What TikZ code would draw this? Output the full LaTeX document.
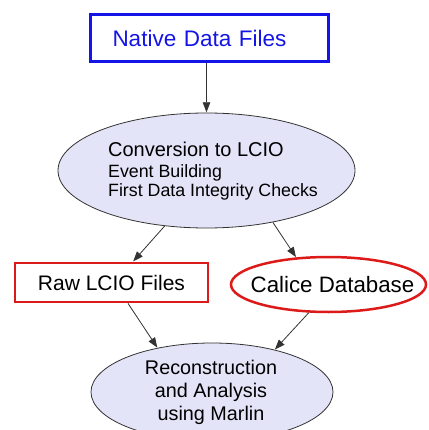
\documentclass[tikz,border=0pt]{standalone}
\usepackage{fontspec}
\setmainfont{Liberation Sans}
\usetikzlibrary{shapes.geometric,arrows.meta}
\definecolor{nblue}{HTML}{1414E6}
\definecolor{nred}{HTML}{DD1A1A}
\definecolor{lav}{HTML}{E4E4F8}
\definecolor{edge}{HTML}{333333}
\tikzset{
  bluebox/.style={draw=nblue,line width=2.8pt,inner xsep=22pt,text width=194pt,align=left,minimum height=47pt,inner ysep=0pt,text=nblue,font=\fontsize{22.5}{24}\selectfont},
  redbox/.style={draw=nred,line width=2.8pt,minimum width=193pt,minimum height=39pt,inner sep=0pt,font=\fontsize{21}{24}\selectfont},
  redell/.style={ellipse,draw=nred,line width=2.5pt,fill=white,minimum width=195pt,minimum height=55pt,inner xsep=-30pt,inner ysep=-5pt,font=\fontsize{22.3}{24}\selectfont},
  lavell/.style={ellipse,draw=edge,line width=0.8pt,fill=lav,inner sep=0pt},
  arr/.style={draw=edge,line width=0.8pt,-{Triangle[length=10pt,width=7.5pt]},shorten >=0.3pt}
}
\begin{document}
\begin{tikzpicture}[x=1pt,y=-1pt]
\useasboundingbox (0,0) rectangle (428,430);
\clip (0,0) rectangle (428,430);
\node[bluebox] (native) at (209.5,38) {Native Data Files};
\node[lavell,minimum width=297pt,minimum height=115pt] (conv) at (206.5,170.5) {};
\node[align=left,inner sep=0pt,font=\fontsize{17.8}{19.5}\selectfont] (convtxt) at (213,171) {{\fontsize{20}{22}\selectfont Conversion to LCIO}\\[1.5pt]
Event Building\\
First Data Integrity Checks};
\node[redbox] (raw) at (111.5,282.5) {Raw LCIO Files};
\node[redell] (calice) at (328.5,284.5) {\hspace*{8pt}Calice Database};
\node[lavell,minimum width=242pt,minimum height=98pt] (recon) at (212,392) {};
\node[align=center,inner sep=0pt,font=\fontsize{19.8}{23}\selectfont] (recontxt) at (211,392.5) {Reconstruction\\and Analysis\\using Marlin};
\draw[arr] (native.south -| conv.north) -- (conv.north);
\draw[arr] (conv.233) -- ([xshift=21.5pt]raw.north);
\draw[arr] (conv.322) -- (calice.140.6);
\draw[arr] ([xshift=16.5pt]raw.south) -- (recon.141);
\draw[arr] (calice.235) -- (recon.34);
\end{tikzpicture}
\end{document}
